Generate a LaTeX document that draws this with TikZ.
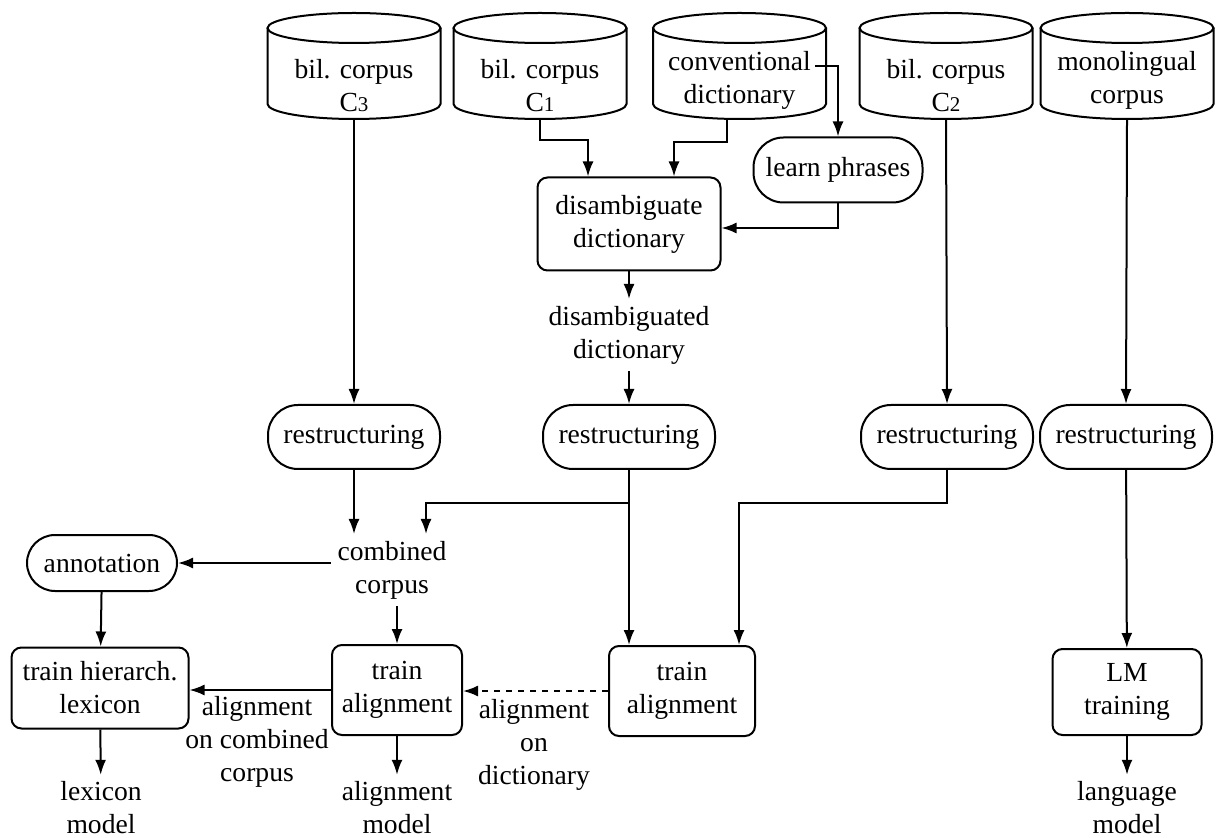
\documentclass[tikz,border=0pt]{standalone}
\usepackage{fontspec}
\setmainfont{Liberation Serif}
\usetikzlibrary{arrows.meta}

\tikzset{
  box/.style={draw, rounded corners=5pt, align=center, inner sep=2pt},
  pill/.style={draw, rounded corners=15pt, align=center, minimum width=86pt, minimum height=32pt},
  txt/.style={align=center, inner sep=3pt},
  arr/.style={-{Latex[length=7.5pt,width=5.5pt]}},
}

\newcommand{\subn}[1]{{\fontsize{10.5}{12}\selectfont #1}}

\begin{document}
\begin{tikzpicture}[x=0.5pt, y=-0.5pt, line width=1pt, font=\fontsize{13.8}{16.5}\selectfont]
\useasboundingbox (0,0) rectangle (1218,838);

% data sources
\foreach \x/\n in {354/c3, 540/c1, 739.5/dict, 946/c2, 1127/mono}{
  \draw (\x,28) ellipse [x radius=43.25pt, y radius=7.5pt];
  \draw (\x-86.5,28) -- (\x-86.5,104) arc [start angle=180, end angle=360, x radius=43.25pt, y radius=7.5pt] -- (\x+86.5,28);
  \coordinate (\n-bot) at (\x,119);
}
\coordinate (dict-foot) at (727,119);
\coordinate (dict-out) at (815,66);

\node[txt] (c3) at (354,86) {bil. corpus\\C\subn{3}};
\node[txt] (c1) at (540,86) {bil. corpus\\C\subn{1}};
\node[txt] (dict) at (739.5,80) {conventional\\dictionary};
\node[txt] (c2) at (946,86) {bil. corpus\\C\subn{2}};
\node[txt] (mono) at (1127,80) {monolingual\\corpus};

% processing
\node[pill, minimum width=84.5pt, minimum height=32.5pt] (learn) at (838,170) {learn phrases};
\node[box, minimum width=91.5pt, minimum height=46.5pt] (disamb) at (629,224) {disambiguate\\dictionary};
\node[txt] (disdict) at (629,335) {disambiguated\\dictionary};

\node[pill] (restr1) at (354,437) {restructuring};
\node[pill] (restr2) at (629,437) {restructuring};
\node[pill] (restr3) at (947,437) {restructuring};
\node[pill] (restr4) at (1126,437) {restructuring};

\node[txt] (comb) at (392,570) {combined\\corpus};
\node[box, rounded corners=14pt, minimum width=75pt, minimum height=28pt] (annot) at (102,563) {annotation};
\node[box, minimum width=88.5pt, minimum height=40.5pt] (hier) at (100,688) {train hierarch.\\lexicon};
\node[box, minimum width=65pt, minimum height=45pt] (trainc) at (397,690) {train\\alignment};
\node[box, minimum width=73pt, minimum height=45pt] (traind) at (682,691) {train\\alignment};
\node[box, minimum width=74.5pt, minimum height=43pt] (lm) at (1127,692) {LM\\training};

% results
\node[txt] (lexm) at (101,808) {lexicon\\model};
\node[txt] (alignm) at (397,808) {alignment\\model};
\node[txt] (langm) at (1127,808) {language\\model};
\node[txt] (labc) at (257,742) {alignment\\on combined\\corpus};
\node[txt] (labd) at (534,745) {alignment\\on\\dictionary};

% connections
\draw[arr] (c3-bot) -- (restr1.north);
\draw[arr] (c1-bot) -- ++(0,21) -| ([xshift=-20.5pt]disamb.north);
\draw[arr] (dict-foot) -- ++(0,23) -| ([xshift=22.5pt]disamb.north);
\draw[arr] (dict-out) -| (learn.north);
\draw[arr] (learn.south) |- ([yshift=-2pt]disamb.east);
\draw[arr] (disamb) -- (disdict);
\draw[arr] (disdict) -- (restr2);
\draw[arr] (c2-bot) -- (restr3.north);
\draw[arr] (mono-bot) -- (restr4.north);

\draw[arr] (restr1.south) -- (restr1.south |- comb.north);
\draw[arr] (restr2.south) -- (restr2.south |- traind.north);
\coordinate (fork) at (629,503);
\draw[arr] (fork) -| ([xshift=17pt]comb.north);
\draw[arr] (restr3.south) -- ++(0,33) -| ([xshift=28.5pt]traind.north);
\draw[arr] (restr4) -- (lm);

\draw[arr] (comb.west |- annot) -- (annot.east);
\draw[arr] (annot) -- (hier);
\draw[arr] (comb.south -| trainc) -- (trainc.north);
\draw[arr] (trainc.west) -- (trainc.west -| hier.east);
\draw[arr, dashed] (traind.west) -- (traind.west -| trainc.east);

\draw[arr] (hier) -- (lexm);
\draw[arr] (trainc) -- (alignm);
\draw[arr] (lm) -- (langm);
\end{tikzpicture}
\end{document}
